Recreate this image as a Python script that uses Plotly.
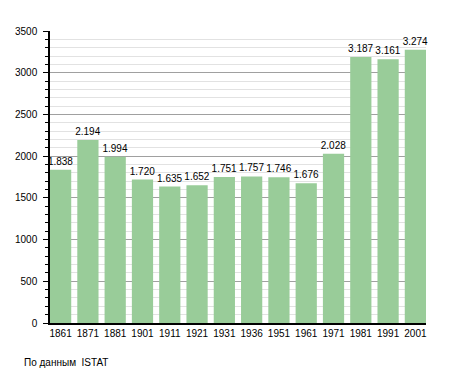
import plotly.graph_objects as go

years = ["1861", "1871", "1881", "1901", "1911", "1921", "1931", "1936", "1951", "1961", "1971", "1981", "1991", "2001"]
population = [1838, 2194, 1994, 1720, 1635, 1652, 1751, 1757, 1746, 1676, 2028, 3187, 3161, 3274]
labels = ["1.838", "2.194", "1.994", "1.720", "1.635", "1.652", "1.751", "1.757", "1.746", "1.676", "2.028", "3.187", "3.161", "3.274"]
y_ticks = [0, 500, 1000, 1500, 2000, 2500, 3000, 3500]

gap = 6 / 27
half = (1 - gap) / 2

fig = go.Figure(go.Bar(
    x=years, y=population, text=labels, textposition="outside",
    constraintext="none",
    textfont=dict(color="black", size=10, family="Liberation Sans, Arial"),
    marker=dict(color="#99cc99", line=dict(width=0)),
    cliponaxis=False,
))

fig.update_layout(
    width=455, height=373,
    margin=dict(l=42, r=37, t=23, b=58),
    paper_bgcolor="white", plot_bgcolor="white",
    font=dict(family="Liberation Sans, Arial", size=10, color="black"),
    bargap=gap,
    showlegend=False,
    annotations=[dict(text="По данным  ISTAT", xref="paper", yref="paper",
                      x=-28/376, y=-39/292, xanchor="left", yanchor="middle",
                      showarrow=False, font=dict(size=10, color="black"))],
)

fig.update_xaxes(showline=True, linecolor="black", linewidth=1.5, ticks="",
                 range=[-half, len(years) - 1 + half], automargin=False,
                 showgrid=False, tickfont=dict(size=10))
fig.update_yaxes(range=[0, 3500], tickvals=y_ticks, showline=True, linecolor="black",
                 linewidth=1.5, ticks="outside", ticklen=5, tickcolor="black",
                 ticklabelstandoff=4, automargin=False,
                 showgrid=True, gridcolor="#a0a0a0", gridwidth=1,
                 zeroline=False,
                 minor=dict(dtick=100, showgrid=True, gridcolor="#e2e2e2", gridwidth=1,
                            ticks="outside", ticklen=3, tickcolor="black"),
                 tickfont=dict(size=10))

fig.write_html("out.html")
